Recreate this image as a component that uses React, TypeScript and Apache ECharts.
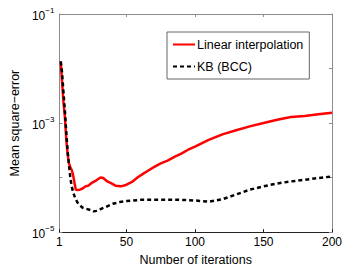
import React, { useEffect, useRef } from "react";
import * as echarts from "echarts";

const iterations = [2, 3, 4, 5, 6, 7, 8, 9, 10, 11, 12, 13, 14, 16, 18, 20, 22, 25, 28, 31, 33, 36, 39, 42, 46, 50, 54, 58, 62, 66, 70, 75, 80, 85, 90, 95, 100, 110, 120, 130, 140, 150, 160, 170, 180, 190, 200];
const linearValues = [1.35e-2, 5.5e-3, 2.4e-3, 1.32e-3, 5.2e-4, 2.75e-4, 1.82e-4, 1.55e-4, 1.38e-4, 1.12e-4, 8.1e-5, 6.0e-5, 5.9e-5, 6.0e-5, 6.3e-5, 6.9e-5, 7.1e-5, 8.1e-5, 8.9e-5, 1.0e-4, 9.8e-5, 8.5e-5, 7.8e-5, 7.1e-5, 6.9e-5, 7.4e-5, 8.3e-5, 1.0e-4, 1.17e-4, 1.35e-4, 1.55e-4, 1.82e-4, 2.04e-4, 2.4e-4, 2.75e-4, 3.24e-4, 3.7e-4, 4.9e-4, 6.2e-4, 7.4e-4, 8.7e-4, 1.0e-3, 1.15e-3, 1.29e-3, 1.35e-3, 1.45e-3, 1.55e-3];

const kbIterations = [2, 3, 4, 5, 6, 7, 8, 9, 10, 11, 12, 14, 16, 18, 20, 23, 26, 28, 31, 35, 40, 45, 50, 60, 70, 80, 90, 100, 110, 120, 130, 140, 150, 160, 170, 180, 190, 200];
const kbValues = [1.35e-2, 8.3e-3, 3.6e-3, 1.74e-3, 7.1e-4, 3.1e-4, 1.7e-4, 1.0e-4, 6.9e-5, 5.4e-5, 4.6e-5, 3.55e-5, 3.1e-5, 2.8e-5, 2.7e-5, 2.57e-5, 2.4e-5, 2.45e-5, 2.63e-5, 2.9e-5, 3.3e-5, 3.55e-5, 3.7e-5, 3.9e-5, 3.9e-5, 3.9e-5, 3.9e-5, 3.8e-5, 3.6e-5, 4.0e-5, 4.9e-5, 6.0e-5, 6.9e-5, 7.8e-5, 8.5e-5, 9.1e-5, 9.8e-5, 1.05e-4];

const xTicks = [1, 50, 100, 150, 200];
const yLabelExponents = [-5, -3, -1];
const seriesNames = ["Linear interpolation", "KB (BCC)"];

const FONT = "Liberation Sans, Arial, Helvetica, sans-serif";

export default function App() {
  const ref = useRef<HTMLDivElement>(null);
  useEffect(() => {
    if (!ref.current) return;
    const chart = echarts.init(ref.current, undefined, { renderer: "svg" });
    const gray = "#8c8c8c";
    const dark = "#222";
    chart.setOption({
      animation: false,
      backgroundColor: "#fff",
      textStyle: { fontFamily: FONT },
      grid: { left: 45, right: 14, top: 14, bottom: 31.5 },
      legend: {
        orient: "vertical",
        left: 167,
        top: 32,
        width: 160,
        height: 49,
        padding: [6, 6, 6, 5],
        itemGap: 9,
        itemWidth: 22,
        itemHeight: 10,
        backgroundColor: "#fff",
        borderColor: "#666",
        borderWidth: 1,
        borderRadius: 0,
        itemStyle: { opacity: 0, borderWidth: 0 },
        textStyle: { fontFamily: FONT, fontSize: 12.5, color: "#000", padding: [0, 0, 0, -3] },
        data: seriesNames,
      },
      xAxis: [
        {
          type: "value",
          min: 1,
          max: 200,
          name: "Number of iterations",
          nameLocation: "middle",
          nameGap: 17,
          nameTextStyle: { fontFamily: FONT, fontSize: 12.5, color: "#000" },
          axisLine: { lineStyle: { color: dark, width: 1 } },
          axisTick: { inside: true, length: 3, lineStyle: { color: dark }, customValues: xTicks },
          axisLabel: { customValues: xTicks, fontFamily: FONT, fontSize: 12, color: "#000", margin: 4 },
          splitLine: { show: false },
        },
        {
          type: "value",
          position: "top",
          min: 1,
          max: 200,
          axisLine: { show: true, lineStyle: { color: gray, width: 1 } },
          axisTick: { inside: true, length: 3, lineStyle: { color: gray }, customValues: xTicks },
          axisLabel: { show: false },
          splitLine: { show: false },
        },
      ],
      yAxis: [
        {
          type: "log",
          logBase: 10,
          min: 1e-5,
          max: 1e-1,
          name: "Mean square\u2212error",
          nameLocation: "middle",
          nameGap: 34,
          nameTextStyle: { fontFamily: FONT, fontSize: 12.5, color: "#000" },
          axisLine: { show: true, lineStyle: { color: gray, width: 1 } },
          axisTick: { inside: true, length: 3, lineStyle: { color: gray } },
          axisLabel: {
            margin: 5,
            formatter: (v: number) => {
              const e = Math.round(Math.log10(v));
              if (!yLabelExponents.includes(e)) return "";
              return `{b|10}{s|\u2212${-e}}`;
            },
            rich: {
              b: { fontFamily: FONT, fontSize: 12, color: "#000", lineHeight: 16, verticalAlign: "bottom" },
              s: { fontFamily: FONT, fontSize: 8, color: "#000", lineHeight: 16, verticalAlign: "top", padding: [0, 0, 6, 0] },
            },
          },
          splitLine: { show: false },
          minorTick: { show: false },
        },
        {
          type: "log",
          logBase: 10,
          min: 1e-5,
          max: 1e-1,
          position: "right",
          axisLine: { show: true, lineStyle: { color: gray, width: 1 } },
          axisTick: { inside: true, length: 3, lineStyle: { color: gray } },
          axisLabel: { show: false },
          splitLine: { show: false },
        },
      ],
      series: [
        {
          name: seriesNames[0],
          type: "line",
          data: iterations.map((x, i) => [x, linearValues[i]]),
          symbol: "none",
          smooth: false,
          lineStyle: { color: "#ff0000", width: 2.5 },
          itemStyle: { color: "#ff0000" },
          z: 3,
        },
        {
          name: seriesNames[1],
          type: "line",
          data: kbIterations.map((x, i) => [x, kbValues[i]]),
          symbol: "none",
          smooth: false,
          lineStyle: { color: "#000", width: 2.5, type: [4, 3], cap: "butt" },
          itemStyle: { color: "#000" },
          z: 4,
        },
      ],
    });
    return () => chart.dispose();
  }, []);
  return <div ref={ref} style={{ width: 346, height: 271, position: "absolute", left: 0, top: 0 }} />;
}
